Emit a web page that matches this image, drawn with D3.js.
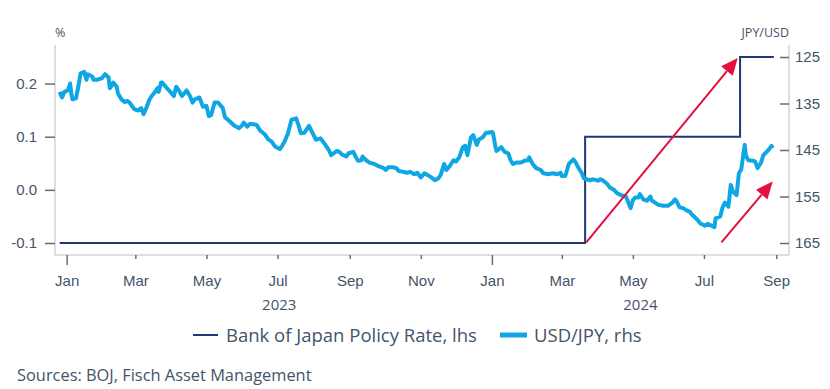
<!DOCTYPE html>
<html>
<head>
<meta charset="utf-8">
<script src="https://cdn.jsdelivr.net/npm/d3@7"></script>
<style>
body { margin: 0; background: #fff; }
svg { display: block; font-family: "Open Sans", sans-serif; }
</style>
</head>
<body>
<div id="chart"></div>
<script>
// Bank of Japan policy rate, % (lhs) - step changes
var bojDates = ["2022-12-26", "2024-03-21", "2024-08-01", "2024-08-30"];
var bojRate = [-0.1, 0.1, 0.25, 0.25];

// USD/JPY (rhs, inverted axis)
var usdJpy = [
    ["2022-12-26",132.5],["2022-12-28",133.7],["2022-12-30",132.5],["2023-01-02",132.2],
    ["2023-01-04",130.7],["2023-01-05",132.8],["2023-01-06",134.1],["2023-01-09",133.9],
    ["2023-01-11",131.4],["2023-01-13",128.5],["2023-01-16",128.2],["2023-01-18",129.9],
    ["2023-01-19",128.7],["2023-01-23",129.2],["2023-01-24",129.9],["2023-01-27",129.9],
    ["2023-01-31",129.6],["2023-02-03",128.7],["2023-02-06",129.4],["2023-02-07",131.7],
    ["2023-02-08",131.4],["2023-02-10",130.5],["2023-02-13",131.4],["2023-02-14",132.8],
    ["2023-02-17",134.1],["2023-02-20",134.7],["2023-02-22",134.4],["2023-02-24",134.8],
    ["2023-02-28",136.2],["2023-03-03",136.5],["2023-03-06",136.0],["2023-03-08",137.3],
    ["2023-03-10",136.2],["2023-03-13",134.2],["2023-03-15",133.4],["2023-03-17",132.8],
    ["2023-03-20",131.7],["2023-03-21",132.5],["2023-03-23",130.5],["2023-03-24",130.5],
    ["2023-03-27",131.4],["2023-03-31",132.5],["2023-04-03",133.4],["2023-04-05",131.4],
    ["2023-04-07",132.1],["2023-04-10",133.4],["2023-04-12",132.8],["2023-04-14",132.2],
    ["2023-04-17",133.5],["2023-04-19",134.8],["2023-04-21",134.1],["2023-04-25",133.7],
    ["2023-04-28",135.7],["2023-05-01",135.5],["2023-05-03",137.7],["2023-05-05",137.5],
    ["2023-05-08",134.8],["2023-05-11",134.8],["2023-05-15",136.0],["2023-05-17",138.0],
    ["2023-05-19",138.4],["2023-05-22",139.1],["2023-05-25",139.8],["2023-05-29",140.3],
    ["2023-06-01",139.6],["2023-06-02",139.1],["2023-06-05",140.0],["2023-06-07",139.4],
    ["2023-06-09",139.4],["2023-06-13",139.6],["2023-06-16",140.8],["2023-06-20",141.6],
    ["2023-06-23",142.7],["2023-06-26",143.2],["2023-06-29",144.3],["2023-07-03",144.8],
    ["2023-07-05",144.1],["2023-07-07",143.2],["2023-07-10",141.4],["2023-07-13",138.5],
    ["2023-07-17",138.2],["2023-07-19",139.6],["2023-07-21",141.4],["2023-07-24",141.3],
    ["2023-07-28",139.8],["2023-07-31",141.3],["2023-08-03",142.8],["2023-08-07",142.5],
    ["2023-08-09",143.2],["2023-08-11",143.9],["2023-08-14",145.0],["2023-08-16",146.1],
    ["2023-08-21",145.2],["2023-08-23",145.4],["2023-08-25",145.9],["2023-08-29",146.4],
    ["2023-08-31",145.7],["2023-09-04",145.4],["2023-09-06",146.4],["2023-09-08",147.3],
    ["2023-09-11",147.2],["2023-09-12",146.4],["2023-09-15",147.2],["2023-09-18",147.7],
    ["2023-09-22",148.0],["2023-09-25",148.4],["2023-09-28",148.7],["2023-09-30",148.9],
    ["2023-10-02",149.3],["2023-10-04",148.7],["2023-10-08",148.7],["2023-10-11",148.9],
    ["2023-10-13",149.5],["2023-10-17",149.7],["2023-10-20",149.9],["2023-10-23",149.7],
    ["2023-10-26",150.2],["2023-10-29",149.9],["2023-11-01",150.9],["2023-11-04",150.0],
    ["2023-11-07",150.4],["2023-11-10",150.9],["2023-11-13",151.5],["2023-11-16",151.1],
    ["2023-11-18",150.4],["2023-11-21",148.0],["2023-11-23",149.3],["2023-11-26",148.4],
    ["2023-11-29",147.2],["2023-12-01",147.5],["2023-12-04",146.6],["2023-12-07",144.4],
    ["2023-12-09",144.1],["2023-12-11",146.1],["2023-12-14",142.3],["2023-12-16",141.8],
    ["2023-12-19",143.9],["2023-12-21",142.7],["2023-12-24",142.3],["2023-12-27",141.3],
    ["2023-12-29",141.3],["2024-01-01",141.1],["2024-01-02",141.4],["2024-01-04",144.3],
    ["2024-01-05",145.2],["2024-01-09",144.4],["2024-01-12",145.4],["2024-01-15",145.7],
    ["2024-01-17",147.2],["2024-01-19",148.0],["2024-01-22",147.7],["2024-01-26",147.7],
    ["2024-01-29",147.3],["2024-02-01",147.2],["2024-02-02",146.6],["2024-02-05",148.0],
    ["2024-02-08",148.9],["2024-02-12",149.3],["2024-02-14",150.0],["2024-02-19",150.2],
    ["2024-02-22",150.0],["2024-02-26",150.2],["2024-02-29",149.9],["2024-03-01",150.6],
    ["2024-03-04",150.6],["2024-03-07",148.0],["2024-03-11",147.0],["2024-03-13",147.7],
    ["2024-03-15",148.7],["2024-03-18",149.9],["2024-03-20",151.1],["2024-03-25",151.5],
    ["2024-03-28",151.3],["2024-04-01",151.6],["2024-04-03",151.3],["2024-04-05",151.5],
    ["2024-04-09",152.3],["2024-04-11",153.0],["2024-04-15",153.6],["2024-04-17",154.2],
    ["2024-04-19",154.5],["2024-04-23",154.9],["2024-04-25",155.0],["2024-04-26",155.6],
    ["2024-04-29",157.5],["2024-05-01",155.8],["2024-05-03",155.2],["2024-05-06",155.2],
    ["2024-05-07",154.5],["2024-05-10",155.6],["2024-05-13",155.9],["2024-05-16",155.0],
    ["2024-05-17",155.8],["2024-05-20",156.3],["2024-05-23",156.8],["2024-05-27",157.0],
    ["2024-05-31",157.0],["2024-06-04",156.3],["2024-06-06",155.6],["2024-06-07",155.8],
    ["2024-06-10",157.3],["2024-06-13",157.5],["2024-06-17",158.1],["2024-06-19",158.3],
    ["2024-06-21",159.0],["2024-06-25",159.9],["2024-06-28",160.8],["2024-07-02",161.3],
    ["2024-07-04",160.9],["2024-07-08",161.3],["2024-07-10",161.6],["2024-07-11",159.7],
    ["2024-07-15",159.3],["2024-07-17",157.3],["2024-07-19",156.3],["2024-07-22",157.2],
    ["2024-07-24",152.5],["2024-07-26",154.0],["2024-07-29",154.7],["2024-07-31",150.0],
    ["2024-08-02",149.2],["2024-08-05",143.9],["2024-08-06",146.1],["2024-08-08",147.2],
    ["2024-08-12",147.3],["2024-08-14",147.5],["2024-08-16",148.9],["2024-08-19",147.7],
    ["2024-08-21",146.1],["2024-08-23",145.6],["2024-08-26",144.8],["2024-08-28",144.1],
    ["2024-08-29",144.6]
];

// axis ticks and labels
var leftTicks = [-0.1, 0.0, 0.1, 0.2];
var rightTicks = [125, 135, 145, 155, 165];
var monthTicks = ["2023-01-01", "2023-03-01", "2023-05-01", "2023-07-01", "2023-09-01", "2023-11-01",
                  "2024-01-01", "2024-03-01", "2024-05-01", "2024-07-01", "2024-09-01"];
var yearLabels = ["2023", "2024"];
var seriesNames = ["Bank of Japan Policy Rate, lhs", "USD/JPY, rhs"];

// red annotation arrows, in date / USD-JPY units
var arrows = [
    {from: ["2024-03-22", 164.85], to: ["2024-07-30", 125.2]},
    {from: ["2024-07-16", 164.85], to: ["2024-08-29", 151.8]}
];

var navy = "#1f3a75", blue = "#0ea7e3", red = "#e3103d", textColor = "#44546a";

var width = 830, height = 389;
var plot = {left: 55, right: 789, top: 45, bottom: 255};

var parseDate = d3.timeParse("%Y-%m-%d");

var x = d3.scaleTime()
    .domain([parseDate("2022-12-22"), parseDate("2024-09-12")])
    .range([plot.left, plot.right]);
var yLeft = d3.scaleLinear().domain([-0.1, 0.25]).range([243, 57]);
var yRight = d3.scaleLinear().domain([125, 165]).range([57, 243]);

var svg = d3.select("#chart").append("svg")
    .attr("width", width)
    .attr("height", height);

// frame lines
var frame = svg.append("g").attr("stroke", "#d4d4d4").attr("stroke-width", 1.5);
frame.append("line").attr("x1", plot.left).attr("x2", plot.left).attr("y1", plot.top).attr("y2", plot.bottom);
frame.append("line").attr("x1", plot.right).attr("x2", plot.right).attr("y1", plot.top).attr("y2", plot.bottom);
frame.append("line").attr("x1", plot.left).attr("x2", plot.right).attr("y1", plot.bottom).attr("y2", plot.bottom);

// left axis
var gLeft = svg.append("g")
    .attr("transform", "translate(" + plot.left + ",0)")
    .call(d3.axisLeft(yLeft).tickValues(leftTicks).tickSize(10).tickPadding(8)
        .tickFormat(function(d) { return d.toFixed(1); }));

// right axis
var gRight = svg.append("g")
    .attr("transform", "translate(" + plot.right + ",0)")
    .call(d3.axisRight(yRight).tickValues(rightTicks).tickSize(-9).tickPadding(6));

// bottom axis
var gBottom = svg.append("g")
    .attr("transform", "translate(0," + plot.bottom + ")")
    .call(d3.axisBottom(x).tickValues(monthTicks.map(parseDate)).tickSize(4)
        .tickFormat(d3.timeFormat("%b")));

gBottom.selectAll(".tick line")
    .attr("y2", function(d) { return d.getMonth() === 0 ? 10 : 4; });
gBottom.selectAll(".tick text").attr("y", 31).attr("dy", 0);

[gLeft, gRight, gBottom].forEach(function(g) {
    g.select(".domain").remove();
    g.selectAll(".tick line").attr("stroke", "#6b6b6b").attr("stroke-width", 1.5);
    g.selectAll(".tick text")
        .attr("fill", textColor)
        .style("font-family", "inherit")
        .style("font-size", "15px");
});

// year labels, centred under the visible part of each year
yearLabels.forEach(function(yr) {
    var x0 = Math.max(x(parseDate(yr + "-01-01")), plot.left);
    var x1 = Math.min(x(parseDate((+yr + 1) + "-01-01")), plot.right);
    svg.append("text")
        .attr("x", (x0 + x1) / 2)
        .attr("y", 310)
        .attr("text-anchor", "middle")
        .attr("fill", textColor)
        .style("font-size", "15px")
        .text(yr);
});

// unit labels
svg.append("text").attr("x", 55).attr("y", 37).attr("fill", textColor)
    .style("font-size", "12.5px").text("%");
svg.append("text").attr("x", 789).attr("y", 37).attr("text-anchor", "end").attr("fill", textColor)
    .style("font-size", "12.5px").text("JPY/USD");

// BOJ policy rate line
var bojData = bojDates.map(function(d, i) { return {date: parseDate(d), value: bojRate[i]}; });
svg.append("path")
    .datum(bojData)
    .attr("fill", "none")
    .attr("stroke", navy)
    .attr("stroke-width", 2)
    .attr("d", d3.line().curve(d3.curveStepAfter)
        .x(function(d) { return x(d.date); })
        .y(function(d) { return yLeft(d.value); }));

// USD/JPY line
var fxData = usdJpy.map(function(d) { return {date: parseDate(d[0]), value: d[1]}; });
svg.append("path")
    .datum(fxData)
    .attr("fill", "none")
    .attr("stroke", blue)
    .attr("stroke-width", 4)
    .attr("stroke-linejoin", "round")
    .attr("d", d3.line()
        .x(function(d) { return x(d.date); })
        .y(function(d) { return yRight(d.value); }));

// arrows
arrows.forEach(function(a) {
    var x1 = x(parseDate(a.from[0])), y1 = yRight(a.from[1]);
    var x2 = x(parseDate(a.to[0])), y2 = yRight(a.to[1]);
    var ang = Math.atan2(y2 - y1, x2 - x1);
    var len = 17, half = 7.5;
    var bx = x2 - len * Math.cos(ang), by = y2 - len * Math.sin(ang);
    svg.append("line")
        .attr("x1", x1).attr("y1", y1).attr("x2", bx).attr("y2", by)
        .attr("stroke", red).attr("stroke-width", 2);
    var pts = [
        [x2, y2],
        [bx + half * Math.sin(ang), by - half * Math.cos(ang)],
        [bx - half * Math.sin(ang), by + half * Math.cos(ang)]
    ];
    svg.append("path")
        .attr("d", "M" + pts.join("L") + "Z")
        .attr("fill", red);
});

// legend
var legend = svg.append("g");
legend.append("line").attr("x1", 193).attr("x2", 218).attr("y1", 335).attr("y2", 335)
    .attr("stroke", navy).attr("stroke-width", 2);
legend.append("text").attr("x", 226).attr("y", 342).attr("fill", textColor)
    .style("font-size", "18.5px").text(seriesNames[0]);
legend.append("line").attr("x1", 500).attr("x2", 527).attr("y1", 335).attr("y2", 335)
    .attr("stroke", blue).attr("stroke-width", 5);
legend.append("text").attr("x", 534).attr("y", 342).attr("fill", textColor)
    .style("font-size", "18.5px").text(seriesNames[1]);

// source note
svg.append("text").attr("x", 17).attr("y", 381).attr("fill", textColor)
    .style("font-size", "16.4px").text("Sources: BOJ, Fisch Asset Management");
</script>
</body>
</html>
